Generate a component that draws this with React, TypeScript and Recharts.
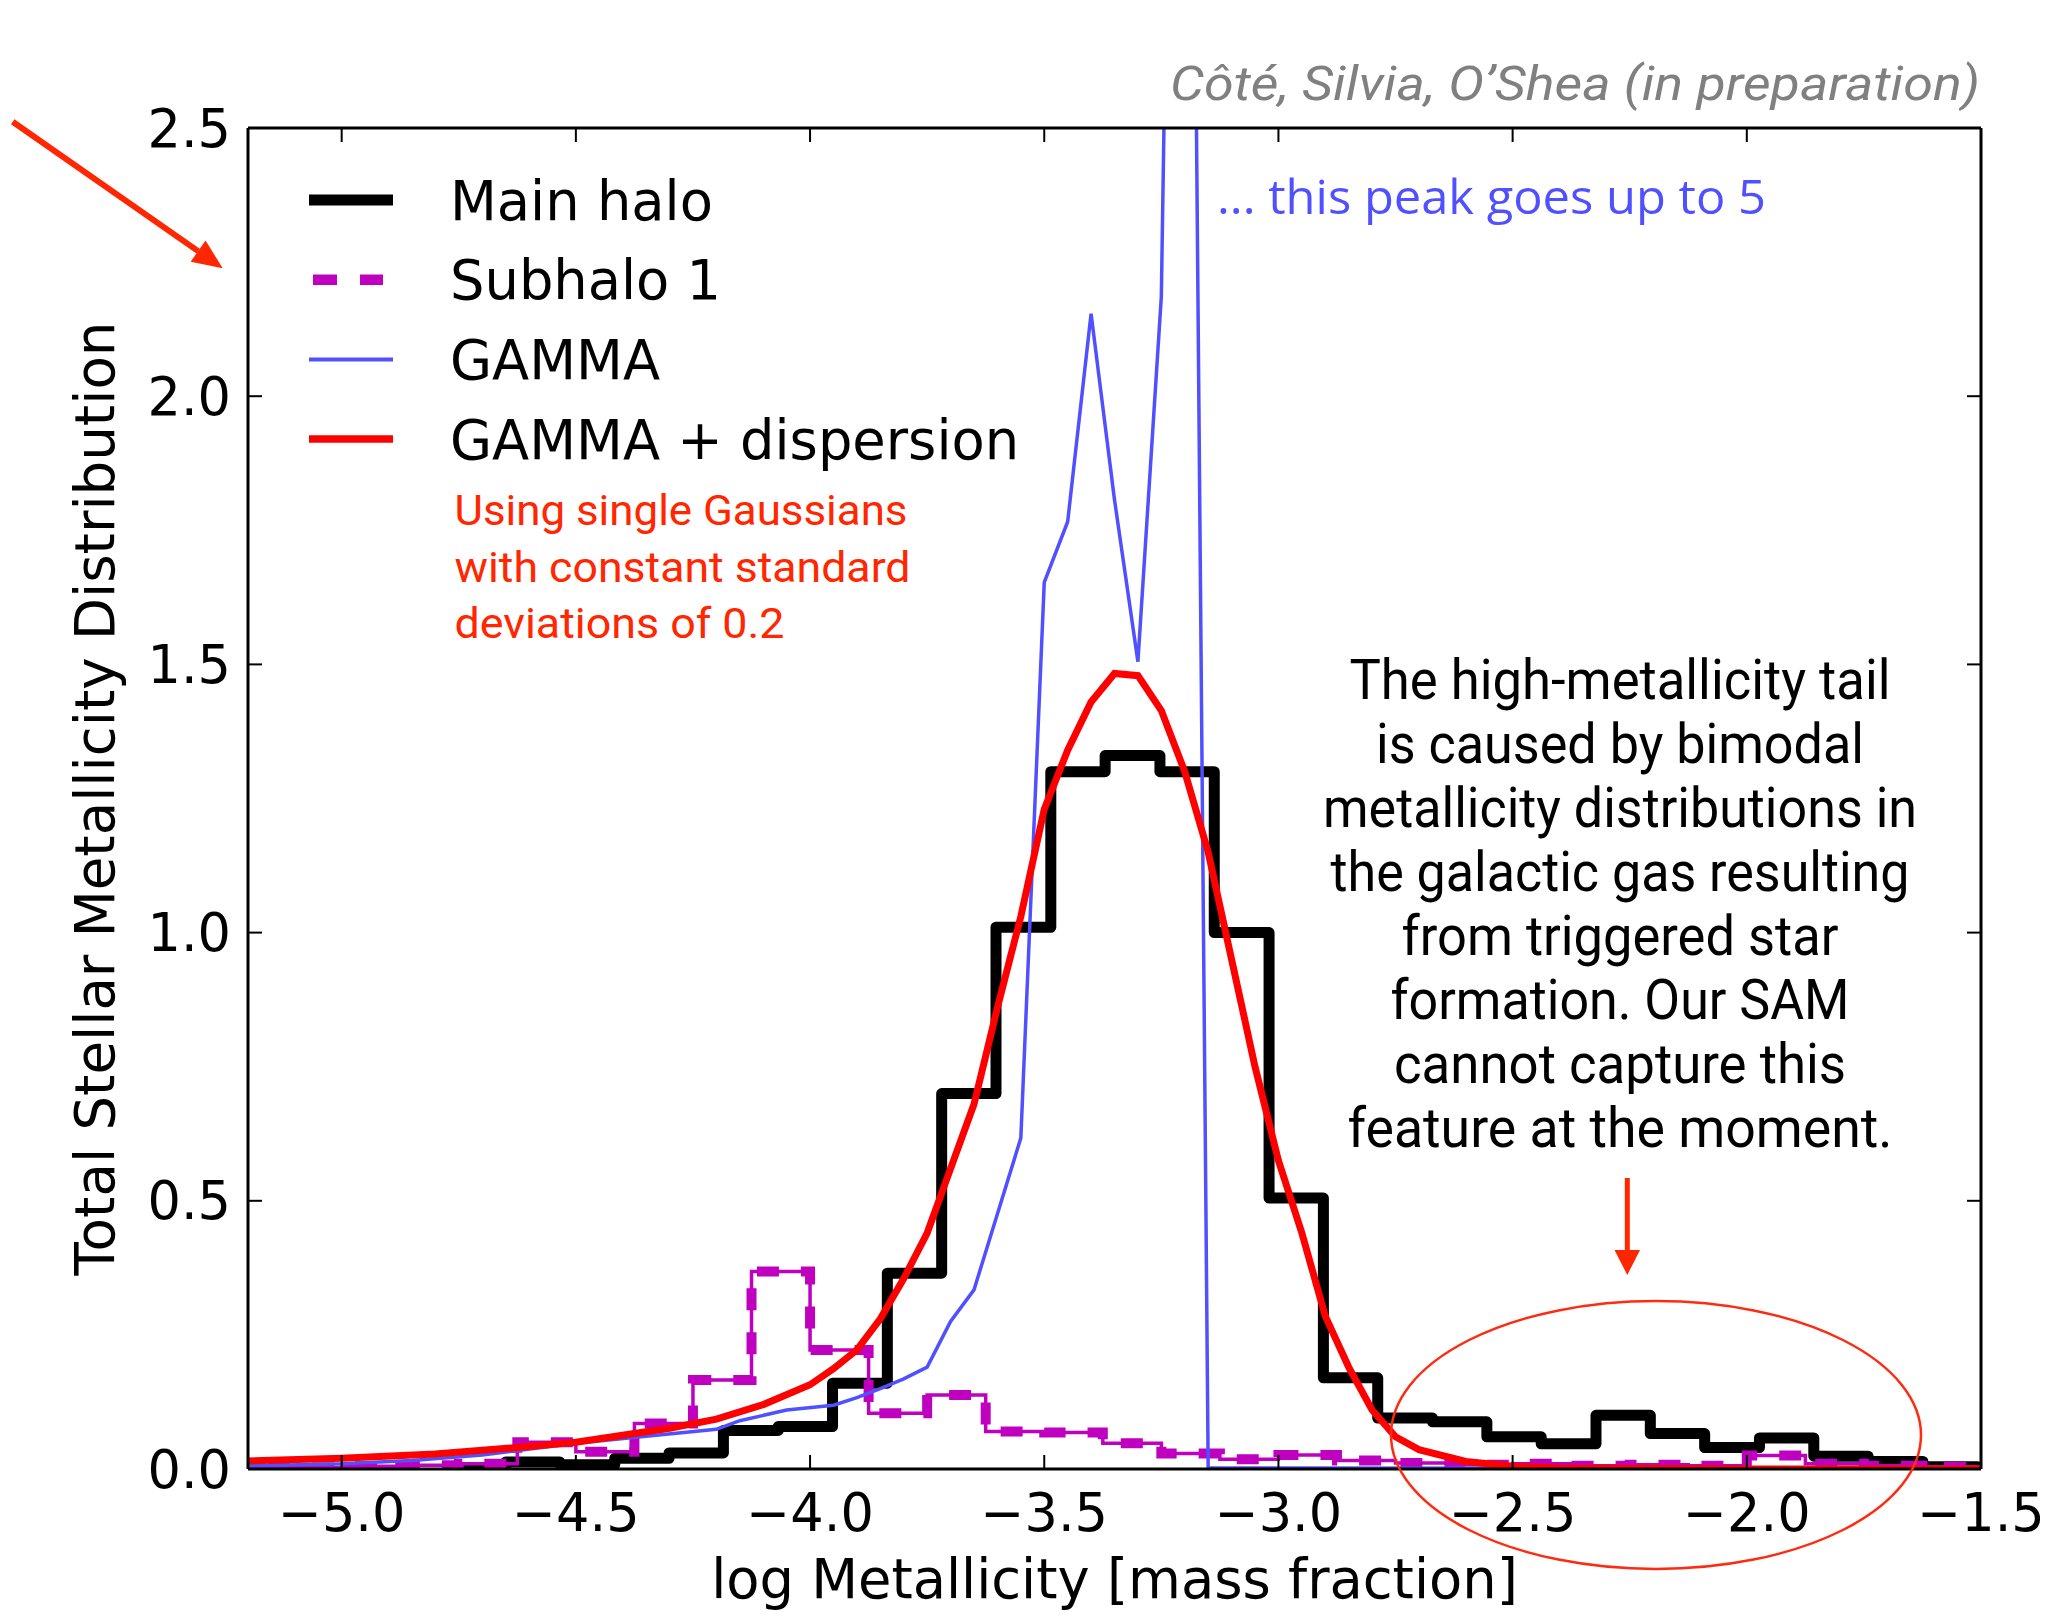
import React from 'react';
import { LineChart, Line, XAxis, YAxis, Legend } from 'recharts';

const W = 2046;
const H = 1624;

// ---------- tick labels ----------
const xTicks = [-5.0, -4.5, -4.0, -3.5, -3.0, -2.5, -2.0, -1.5];
const yTicks = [0, 0.5, 1.0, 1.5, 2.0, 2.5];

// ---------- Main halo (step histogram, left bin edges + bin values) ----------
const mainHaloEdges = [
  -4.767, -4.650, -4.534, -4.417, -4.301, -4.185, -4.068, -3.952, -3.835, -3.719,
  -3.603, -3.486, -3.370, -3.253, -3.137, -3.020, -2.904, -2.788, -2.671, -2.555,
  -2.439, -2.322, -2.206, -2.090, -1.973, -1.857, -1.741, -1.624, -1.508,
];
const mainHaloValues = [
  0.0, 0.013, 0.008, 0.02, 0.03, 0.072, 0.079, 0.16, 0.365, 0.70,
  1.01, 1.30, 1.33, 1.30, 1.00, 0.505, 0.17, 0.095, 0.088, 0.06,
  0.047, 0.10, 0.066, 0.04, 0.058, 0.024, 0.014, 0.004, 0.0,
];

// ---------- Subhalo 1 (step histogram) ----------
const subhaloEdges = [
  -5.25, -5.125, -5.0, -4.875, -4.75, -4.625, -4.5, -4.375, -4.25, -4.125,
  -4.0, -3.875, -3.75, -3.625, -3.5, -3.375, -3.25, -3.125, -3.0, -2.875,
  -2.75, -2.625, -2.5, -2.375, -2.25, -2.125, -2.0, -1.875, -1.75, -1.625, -1.5,
];
const subhaloValues = [
  0.002, 0.003, 0.005, 0.007, 0.01, 0.05, 0.032, 0.085, 0.166, 0.368,
  0.222, 0.104, 0.138, 0.07, 0.068, 0.048, 0.029, 0.018, 0.026, 0.016,
  0.011, 0.008, 0.01, 0.006, 0.008, 0.006, 0.025, 0.01, 0.006, 0.004, 0.004,
];

// ---------- GAMMA ----------
const gammaX = [
  -5.2, -5.0, -4.85, -4.7, -4.5, -4.35, -4.2, -4.15, -4.05, -3.95, -3.9, -3.85,
  -3.8, -3.75, -3.7, -3.65, -3.55, -3.5, -3.45, -3.4, -3.35, -3.3, -3.25, -3.2,
  -3.15, -1.5,
];
const gammaY = [
  0.006, 0.01, 0.016, 0.026, 0.048, 0.061, 0.074, 0.09, 0.11, 0.119, 0.133, 0.15,
  0.168, 0.19, 0.275, 0.334, 0.617, 1.653, 1.766, 2.154, 1.807, 1.505, 2.186, 5.0,
  0.002, 0.0,
];

// ---------- GAMMA + dispersion ----------
const dispX = [
  -5.2, -5.0, -4.8, -4.7, -4.6, -4.5, -4.4, -4.3, -4.2, -4.1, -4.0, -3.95, -3.9,
  -3.85, -3.8, -3.75, -3.7, -3.65, -3.6, -3.55, -3.5, -3.45, -3.4, -3.35, -3.3,
  -3.25, -3.2, -3.15, -3.1, -3.05, -3.0, -2.95, -2.9, -2.85, -2.8, -2.75, -2.7,
  -2.6, -2.5, -2.4, -2.2, -2.0, -1.5,
];
const dispY = [
  0.015, 0.02, 0.028, 0.035, 0.042, 0.05, 0.063, 0.076, 0.093, 0.12, 0.157, 0.187, 0.222,
  0.28, 0.355, 0.44, 0.56, 0.68, 0.86, 1.03, 1.23, 1.34, 1.43, 1.483, 1.479,
  1.414, 1.30, 1.15, 0.95, 0.75, 0.575, 0.44, 0.285, 0.19, 0.11, 0.06, 0.036,
  0.014, 0.005, 0.002, 0.001, 0.0, 0.0,
];

// ---------- legend ----------
const legendNames = ['Main halo', 'Subhalo 1', 'GAMMA', 'GAMMA + dispersion'];
const legendColors = ['#000000', '#bf00bf', '#5050ff', '#ff0000'];
const legendWidths = [11, 10.5, 4, 7.5];
const legendDash = ['', '24 23', '', ''];

// ---------- annotations ----------
const noteRedLines = ['Using single Gaussians', 'with constant standard', 'deviations of 0.2'];
const noteRedWidths = [453, 456, 330];
const noteBlackLines = [
  'The high-metallicity tail',
  'is caused by bimodal',
  'metallicity distributions in',
  'the galactic gas resulting',
  'from triggered star',
  'formation. Our SAM',
  'cannot capture this',
  'feature at the moment.',
];
const noteBlackWidths = [541, 488, 594, 579, 437, 459, 452, 545];

const zip = (xs: number[], ys: number[]) => xs.map((x, i) => ({ x, y: ys[i] }));
const mainHaloData = zip(mainHaloEdges, mainHaloValues);
const subhaloData = zip(subhaloEdges, subhaloValues);
const gammaData = zip(gammaX, gammaY);
const dispData = zip(dispX, dispY);

const fmt = (v: number) => (v < 0 ? '\u2212' + Math.abs(v).toFixed(1) : v.toFixed(1));
const MPL_FONT = "'DejaVu Sans', 'Bitstream Vera Sans', sans-serif";
const COND_FONT = "'Liberation Sans Narrow', 'Roboto', 'Liberation Sans', sans-serif";
const ANN_RED = '#ff2600';

const tickStyle = { fill: '#000', fontSize: 52.5, fontFamily: MPL_FONT };
const axisLineStyle = { stroke: '#000', strokeWidth: 3 };
const tickLineStyle = { stroke: '#000', strokeWidth: 2 };

const renderLegend = () => (
  <svg width={W} height={H} style={{ position: 'absolute', left: 0, top: 0, pointerEvents: 'none' }}>
    {legendNames.map((name, i) => {
      const cy = 200 + i * 79.7;
      return (
        <g key={name}>
          <line
            x1={legendDash[i] ? 313 : 309}
            x2={legendDash[i] ? 383 : 393}
            y1={cy}
            y2={cy}
            stroke={legendColors[i]}
            strokeWidth={legendWidths[i]}
            strokeDasharray={legendDash[i] || undefined}
          />
          <text x={450} y={cy + 19.5} fontSize={54.3} fontFamily={MPL_FONT} fill="#000">
            {name}
          </text>
        </g>
      );
    })}
  </svg>
);

function Annotations() {
  // arrow 1 (top-left)
  const tail = { x: 12.7, y: 121.7 };
  const tip = { x: 222.7, y: 268.3 };
  const dx = tip.x - tail.x;
  const dy = tip.y - tail.y;
  const len = Math.hypot(dx, dy);
  const ux = dx / len;
  const uy = dy / len;
  const hl = 30;
  const hw = 13;
  const bx = tip.x - hl * ux;
  const by = tip.y - hl * uy;
  const head1 = `${tip.x},${tip.y} ${bx - hw * uy},${by + hw * ux} ${bx + hw * uy},${by - hw * ux}`;
  return (
    <svg width={W} height={H} style={{ position: 'absolute', left: 0, top: 0, pointerEvents: 'none' }}>
      <text
        x={1170}
        y={100}
        fontSize={48}
        fontStyle="italic"
        fontFamily={COND_FONT}
        fill="#808080"
        textLength={810}
        lengthAdjust="spacingAndGlyphs"
      >
        Côté, Silvia, O’Shea (in preparation)
      </text>
      <text
        x={1217}
        y={214}
        fontSize={48}
        fontFamily="'Open Sans', 'DejaVu Sans', sans-serif"
        fill="#5050ff"
        textLength={549}
        lengthAdjust="spacingAndGlyphs"
      >
        ... this peak goes up to 5
      </text>
      {noteRedLines.map((t, i) => (
        <text
          key={t}
          x={454.5}
          y={525 + i * 56.5}
          fontSize={43}
          fontFamily={COND_FONT}
          fill={ANN_RED}
          textLength={noteRedWidths[i]}
          lengthAdjust="spacingAndGlyphs"
        >
          {t}
        </text>
      ))}
      {noteBlackLines.map((t, i) => (
        <text
          key={t}
          x={1620}
          y={698.6 + i * 64}
          fontSize={55}
          fontFamily={COND_FONT}
          fill="#000"
          textAnchor="middle"
          textLength={noteBlackWidths[i]}
          lengthAdjust="spacingAndGlyphs"
        >
          {t}
        </text>
      ))}
      {/* axis titles */}
      <text x={1114.5} y={1598} fontSize={54.3} fontFamily={MPL_FONT} fill="#000" textAnchor="middle">
        log Metallicity [mass fraction]
      </text>
      <text
        x={0}
        y={0}
        transform="translate(114,798.5) rotate(-90)"
        fontSize={54.6}
        fontFamily={MPL_FONT}
        fill="#000"
        textAnchor="middle"
      >
        Total Stellar Metallicity Distribution
      </text>
      {/* arrows */}
      <line x1={tail.x} y1={tail.y} x2={bx} y2={by} stroke={ANN_RED} strokeWidth={6} />
      <polygon points={head1} fill={ANN_RED} />
      <line x1={1627.3} y1={1178} x2={1627.3} y2={1252} stroke={ANN_RED} strokeWidth={5} />
      <polygon points="1614.5,1250 1640,1250 1627.3,1275" fill={ANN_RED} />
      <ellipse cx={1656} cy={1435} rx={265} ry={134} fill="none" stroke="#ff2a10" strokeWidth={2.5} />
    </svg>
  );
}

export default function App() {
  return (
    <div style={{ position: 'absolute', left: 0, top: 0, width: W, height: H, background: '#fff' }}>
      <LineChart width={W} height={H} margin={{ top: 98, right: 5, bottom: 125, left: 188 }}>
        <XAxis
          xAxisId="bottom"
          dataKey="x"
          type="number"
          domain={[-5.2, -1.5]}
          ticks={xTicks}
          interval={0}
          allowDataOverflow
          height={30}
          tickFormatter={fmt}
          tick={tickStyle}
          tickSize={-14}
          tickMargin={39}
          axisLine={axisLineStyle}
          tickLine={tickLineStyle}
        />
        <XAxis
          xAxisId="top"
          orientation="top"
          dataKey="x"
          type="number"
          domain={[-5.2, -1.5]}
          ticks={xTicks}
          interval={0}
          allowDataOverflow
          height={30}
          tickFormatter={() => ''}
          tickSize={-14}
          axisLine={axisLineStyle}
          tickLine={tickLineStyle}
        />
        <YAxis
          yAxisId="left"
          type="number"
          domain={[0, 2.5]}
          ticks={yTicks}
          interval={0}
          allowDataOverflow
          width={60}
          tickFormatter={fmt}
          tick={tickStyle}
          tickSize={-14}
          tickMargin={31}
          axisLine={axisLineStyle}
          tickLine={tickLineStyle}
        />
        <YAxis
          yAxisId="right"
          orientation="right"
          type="number"
          domain={[0, 2.5]}
          ticks={yTicks}
          interval={0}
          allowDataOverflow
          width={60}
          tickFormatter={() => ''}
          tickSize={-14}
          axisLine={axisLineStyle}
          tickLine={tickLineStyle}
        />
        <Line
          xAxisId="bottom"
          yAxisId="left"
          data={mainHaloData}
          dataKey="y"
          name="Main halo"
          type="stepAfter"
          stroke="#000"
          strokeWidth={11}
          strokeLinejoin="round"
          dot={false}
          activeDot={false}
          legendType="none"
          isAnimationActive={false}
        />
        <Line
          xAxisId="bottom"
          yAxisId="left"
          data={subhaloData}
          dataKey="y"
          name="Subhalo 1 thin"
          type="stepAfter"
          stroke="#bf00bf"
          strokeWidth={3.5}
          dot={false}
          activeDot={false}
          legendType="none"
          isAnimationActive={false}
        />
        <Line
          xAxisId="bottom"
          yAxisId="left"
          data={subhaloData}
          dataKey="y"
          name="Subhalo 1"
          type="stepAfter"
          stroke="#bf00bf"
          strokeWidth={10}
          strokeDasharray="22 22"
          dot={false}
          activeDot={false}
          legendType="none"
          isAnimationActive={false}
        />
        <Line
          xAxisId="bottom"
          yAxisId="left"
          data={gammaData}
          dataKey="y"
          name="GAMMA"
          type="linear"
          stroke="#5050ff"
          strokeWidth={3.5}
          dot={false}
          activeDot={false}
          legendType="none"
          isAnimationActive={false}
        />
        <Line
          xAxisId="bottom"
          yAxisId="left"
          data={dispData}
          dataKey="y"
          name="GAMMA + dispersion"
          type="linear"
          stroke="#ff0000"
          strokeWidth={7}
          dot={false}
          activeDot={false}
          legendType="none"
          isAnimationActive={false}
        />
        <Legend
          layout="vertical"
          align="center"
          verticalAlign="middle"
          wrapperStyle={{ position: 'absolute', left: 0, top: 0, width: W, height: H, pointerEvents: 'none' }}
          content={renderLegend}
        />
      </LineChart>
      <Annotations />
    </div>
  );
}
